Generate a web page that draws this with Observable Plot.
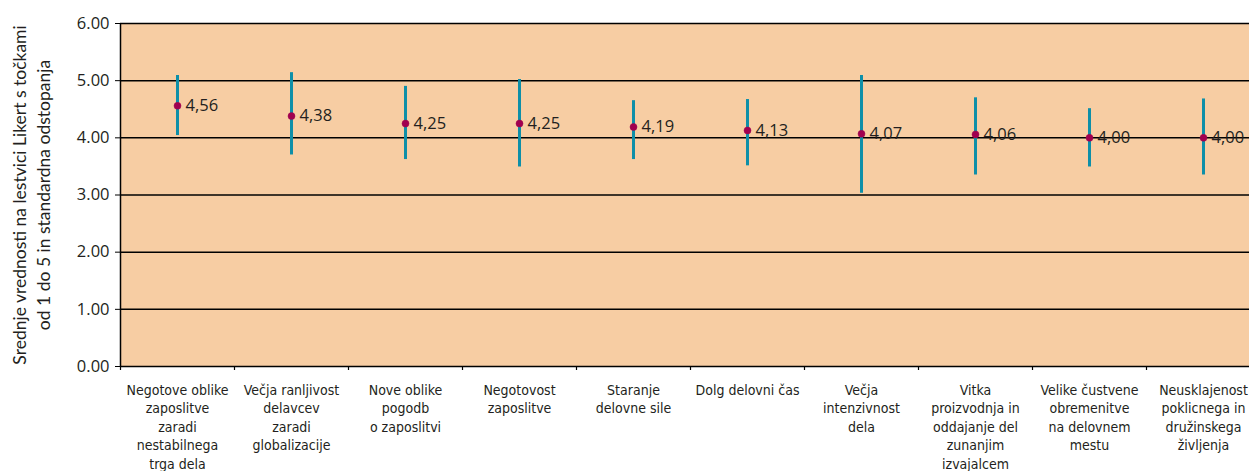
<!DOCTYPE html>
<html>
<head>
<meta charset="utf-8">
<script src="https://cdn.jsdelivr.net/npm/d3@7"></script>
<script src="https://cdn.jsdelivr.net/npm/@observablehq/plot@0.6"></script>
<style>
  html, body { margin: 0; padding: 0; background: #ffffff; overflow: hidden; }
  #chart svg { display: block; max-width: none; }
</style>
</head>
<body>
<div id="chart"></div>
<script>
const categories = [
  "Negotove oblike zaposlitve zaradi nestabilnega trga dela",
  "Večja ranljivost delavcev zaradi globalizacije",
  "Nove oblike pogodb o zaposlitvi",
  "Negotovost zaposlitve",
  "Staranje delovne sile",
  "Dolg delovni čas",
  "Večja intenzivnost dela",
  "Vitka proizvodnja in oddajanje del zunanjim izvajalcem",
  "Velike čustvene obremenitve na delovnem mestu",
  "Neusklajenost poklicnega in družinskega življenja"
];
const tickLabels = [
  "Negotove oblike\nzaposlitve\nzaradi\nnestabilnega\ntrga dela",
  "Večja ranljivost\ndelavcev\nzaradi\nglobalizacije",
  "Nove oblike\npogodb\no zaposlitvi",
  "Negotovost\nzaposlitve",
  "Staranje\ndelovne sile",
  "Dolg delovni čas",
  "Večja\nintenzivnost\ndela",
  "Vitka\nproizvodnja in\noddajanje del\nzunanjim\nizvajalcem",
  "Velike čustvene\nobremenitve\nna delovnem\nmestu",
  "Neusklajenost\npoklicnega in\ndružinskega\nživljenja"
];
const means = [4.56, 4.38, 4.25, 4.25, 4.19, 4.13, 4.07, 4.06, 4.00, 4.00];
const lows  = [4.04, 3.70, 3.62, 3.49, 3.62, 3.51, 3.03, 3.35, 3.49, 3.35];
const highs = [5.09, 5.14, 4.90, 5.02, 4.65, 4.67, 5.09, 4.70, 4.51, 4.68];
const yTicks = [0, 1, 2, 3, 4, 5, 6];
const yLabel = "Srednje vrednosti na lestvici Likert s točkami\nod 1 do 5 in standardna odstopanja";

const data = categories.map((c, i) => ({cat: c, mean: means[i], low: lows[i], high: highs[i]}));
const labelMap = new Map(categories.map((c, i) => [c, tickLabels[i]]));

const bg = "#F7CDA3";
const teal = "#0E8FA8";
const crimson = "#A1004F";
const ink = "#231F20";
const halfBand = 57;

const chart = Plot.plot({
  width: 1262,
  height: 471,
  marginLeft: 120,
  marginRight: 2,
  marginTop: 23,
  marginBottom: 105,
  x: {type: "band", domain: categories, padding: 0, axis: null},
  y: {domain: [0, 6], axis: null},
  style: {fontFamily: "'Open Sans', sans-serif", color: ink, background: "#ffffff", overflow: "visible"},
  marks: [
    Plot.frame({fill: bg, stroke: null}),
    Plot.ruleY(yTicks, {stroke: "#000", strokeWidth: 1.5}),
    Plot.ruleX([categories[0]], {stroke: "#000", strokeWidth: 1.5, dx: -halfBand}),
    Plot.ruleX(categories, {y1: 0, y2: 0, insetBottom: -4, stroke: "#000", strokeWidth: 1.2, dx: -halfBand}),
    Plot.axisY({ticks: yTicks, tickSize: 5, tickPadding: 6, tickFormat: d3.format(".2f"), fontSize: 16.5, label: null, stroke: "#000", fill: ink}),
    Plot.axisX({tickSize: 0, tickPadding: 15, tickFormat: d => labelMap.get(d), fontSize: 14, lineHeight: 1.32,
      fontFamily: "'DejaVu Sans Condensed', 'Liberation Sans Narrow', sans-serif", label: null, fill: ink}),
    Plot.text([yLabel], {frameAnchor: "left", textAnchor: "middle", dx: -90, dy: 0, rotate: -90, fontFamily: "Lato, 'Open Sans', sans-serif", fontSize: 17.5, lineHeight: 1.37, fill: ink}),
    Plot.ruleX(data, {x: "cat", y1: "low", y2: "high", stroke: teal, strokeWidth: 3}),
    Plot.dot(data, {x: "cat", y: "mean", r: 3.5, fill: crimson, stroke: crimson, strokeWidth: 0.5}),
    Plot.text(data, {x: "cat", y: "mean", text: d => d.mean.toFixed(2).replace(".", ","), textAnchor: "start", dx: 8, fontSize: 16.5, fill: ink})
  ]
});
document.getElementById("chart").appendChild(chart);
</script>
</body>
</html>
